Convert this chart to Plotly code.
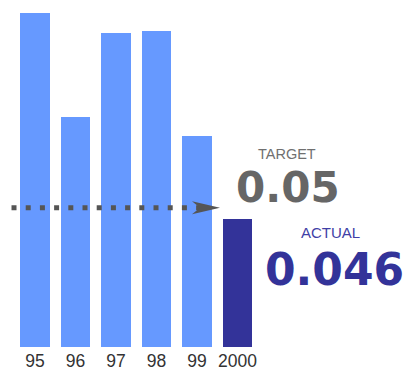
import plotly.graph_objects as go

# Yearly values; the final year is highlighted against the target
years = ["95", "96", "97", "98", "99", "2000"]
values = [0.120, 0.0826, 0.1128, 0.1136, 0.0758, 0.046]
target = 0.05
target_label = "0.05"
actual_label = "0.046"

light_blue = "#6699ff"
dark_blue = "#333399"
gray = "#666666"

W, H = 406, 369
bottom_margin = 22
plot_h = H - bottom_margin

xs = list(range(len(years)))
bar_colors = [light_blue] * (len(years) - 1) + [dark_blue]

fig = go.Figure()
fig.add_trace(go.Bar(
    x=xs, y=values, width=0.74,
    marker=dict(color=bar_colors, line=dict(width=0)),
    hoverinfo="skip",
))

# dotted target line ending in an arrowhead just before the last bar
fig.add_shape(type="line", xref="x", yref="y",
              x0=-0.58, x1=4.12, y0=target, y1=target,
              line=dict(color="#555555", width=5, dash="5px,9.2px"))
fig.add_shape(type="path", xref="x", yref="y",
              xsizemode="pixel", ysizemode="pixel",
              xanchor=4.568, yanchor=target,
              path="M0,0 L-28,6.5 L-20,0 L-28,-6.5 Z",
              fillcolor="#555555", line=dict(width=0))

def px(xp):
    return xp / W

def py(yp):
    return (plot_h - yp) / plot_h

txt = [
    ("TARGET", 287, 154, 14.5, "Liberation Sans", "#707070"),
    (target_label, 287.5, 187.5, 42, "DejaVu Sans", gray),
    ("ACTUAL", 330, 232.5, 15, "Liberation Sans", "#3f3fa6"),
    (actual_label, 334.5, 269, 44, "DejaVu Sans", dark_blue),
]
for t, xp, yp, size, fam, col in txt:
    label = f"<b>{t}</b>" if fam == "DejaVu Sans" else t
    fig.add_annotation(text=label, xref="paper", yref="paper",
                       x=px(xp), y=py(yp), xanchor="center", yanchor="middle",
                       showarrow=False,
                       font=dict(family=fam, size=size, color=col))

fig.update_layout(
    width=W, height=H,
    margin=dict(l=0, r=0, t=0, b=bottom_margin, pad=0, autoexpand=False),
    paper_bgcolor="white", plot_bgcolor="white",
    showlegend=False,
    bargap=0,
    xaxis=dict(range=[-35 / 40.5, (W - 35) / 40.5], tickvals=xs, ticktext=years,
               showgrid=False, zeroline=False, showline=False, ticks="",
               ticklabelstandoff=1, automargin=False,
               tickfont=dict(family="Liberation Sans", size=17.5, color="#333333"),
               fixedrange=True),
    yaxis=dict(range=[0, plot_h / 2783], visible=False, showgrid=False,
               zeroline=False, fixedrange=True, automargin=False),
)

fig.write_html("out.html", config={"displayModeBar": False})
